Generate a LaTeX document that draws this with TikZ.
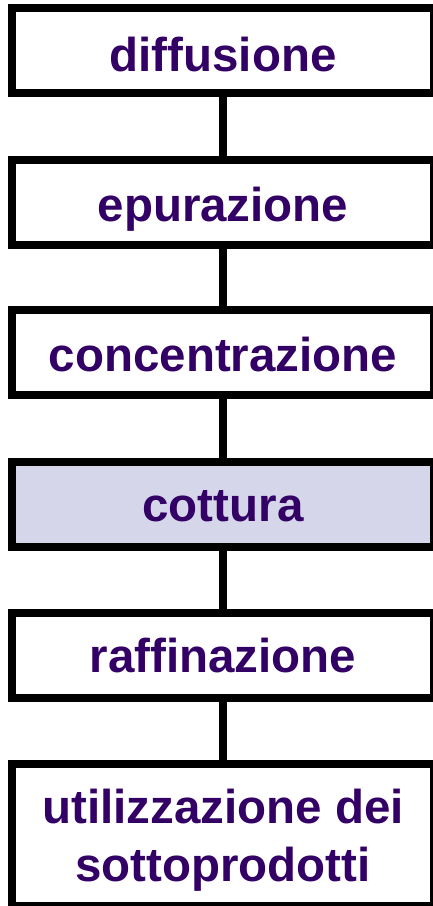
\documentclass[tikz,border=0pt]{standalone}
\usepackage{fontspec}
\setmainfont{Liberation Sans}
\definecolor{txtpurple}{HTML}{330066}
\definecolor{lavender}{HTML}{D6D6EB}
\tikzset{
  steptext/.style={inner sep=0pt, outer sep=0pt, align=center,
    font=\fontsize{47.5pt}{58.5pt}\selectfont\bfseries, text=txtpurple},
  stepbox/.style={steptext, draw=black, line width=8pt, fill=white, minimum width=422pt,
    minimum height=85pt, text depth=0pt},
  link/.style={draw=black, line width=8pt}
}
\begin{document}
\begin{tikzpicture}[x=1pt,y=-1pt]
\clip (0,0) rectangle (433,906);
\fill[white] (0,0) rectangle (433,906);
\node[stepbox, text height=42pt] (b1) at (223,50.5) {diffusione};
\node[stepbox, text height=38pt] (b2) at (223,202) {epurazione};
\node[stepbox, text height=38pt] (b3) at (223,352.8) {concentrazione};
\node[stepbox, text height=35.4pt, fill=lavender] (b4) at (223,504) {cottura};
\node[stepbox, text height=33.4pt] (b5) at (223,655.3) {raffinazione};
\node[stepbox, minimum height=142pt] (b6) at (223,835) {};
\node[steptext, anchor=north] (t6) at (223,788.7) {utilizzazione dei\\sottoprodotti};
\foreach \a/\b in {b1/b2,b2/b3,b3/b4,b4/b5,b5/b6}
  \draw[link] (\a.south) -- (\b.north);
\end{tikzpicture}
\end{document}
